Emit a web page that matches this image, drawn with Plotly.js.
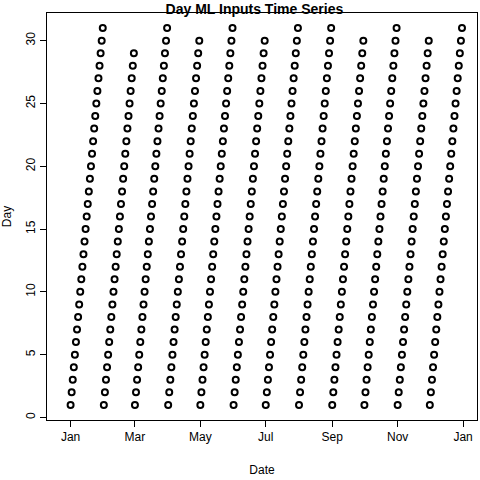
<!DOCTYPE html>
<html>
<head>
<meta charset="utf-8">
<script src="https://cdn.plot.ly/plotly-3.0.1.min.js"></script>
<style>body{margin:0;background:#fff}</style>
</head>
<body>
<div id="plot" style="width:480px;height:480px"></div>
<script>
// calendar of the series: year and length of each month (leap year)
const year = 2016;
const monthDays = [31, 29, 31, 30, 31, 30, 31, 31, 30, 31, 30, 31];
const tickDates = ['2016-01-01', '2016-03-01', '2016-05-01', '2016-07-01', '2016-09-01', '2016-11-01', '2017-01-01'];
const tickLabels = ['Jan', 'Mar', 'May', 'Jul', 'Sep', 'Nov', 'Jan'];
const dayTicks = [0, 5, 10, 15, 20, 25, 30];

const pad = n => String(n).padStart(2, '0');
let xs = [], ys = [];
monthDays.forEach((len, m) => {
    for (let d = 1; d <= len; d++) {
        xs.push(year + '-' + pad(m + 1) + '-' + pad(d));
        ys.push(d);
    }
});

const trace = {
    x: xs, y: ys, mode: 'markers', type: 'scatter',
    marker: {symbol: 'circle-open', size: 6, color: 'black', line: {width: 2, color: 'black'}},
    hoverinfo: 'skip'
};

const axisBase = {
    showgrid: false, zeroline: false, showline: true, mirror: true,
    linecolor: 'black', linewidth: 1, ticks: 'outside', ticklen: 6,
    tickcolor: 'black', tickfont: {size: 12, color: 'black'}
};

const layout = {
    width: 480, height: 480,
    margin: {l: 47, r: 3, t: 13, b: 60},
    font: {family: 'Liberation Sans, Arial, sans-serif', color: 'black'},
    title: {text: '<b>Day ML Inputs Time Series</b>', font: {size: 14}, x: 0.53, xanchor: 'center', y: 0.982, yanchor: 'middle'},
    xaxis: Object.assign({}, axisBase, {
        type: 'date', range: ['2015-12-10', '2017-01-14'],
        tickvals: tickDates, ticktext: tickLabels,
        title: {text: 'Date', font: {size: 12}, standoff: 22}
    }),
    yaxis: Object.assign({}, axisBase, {
        range: [-0.2, 32.2], tickvals: dayTicks, tickangle: -90,
        title: {text: 'Day', font: {size: 12}, standoff: 10}
    }),
    showlegend: false,
    paper_bgcolor: 'white', plot_bgcolor: 'white'
};

Plotly.newPlot('plot', [trace], layout, {staticPlot: true, displayModeBar: false});
</script>
</body>
</html>
